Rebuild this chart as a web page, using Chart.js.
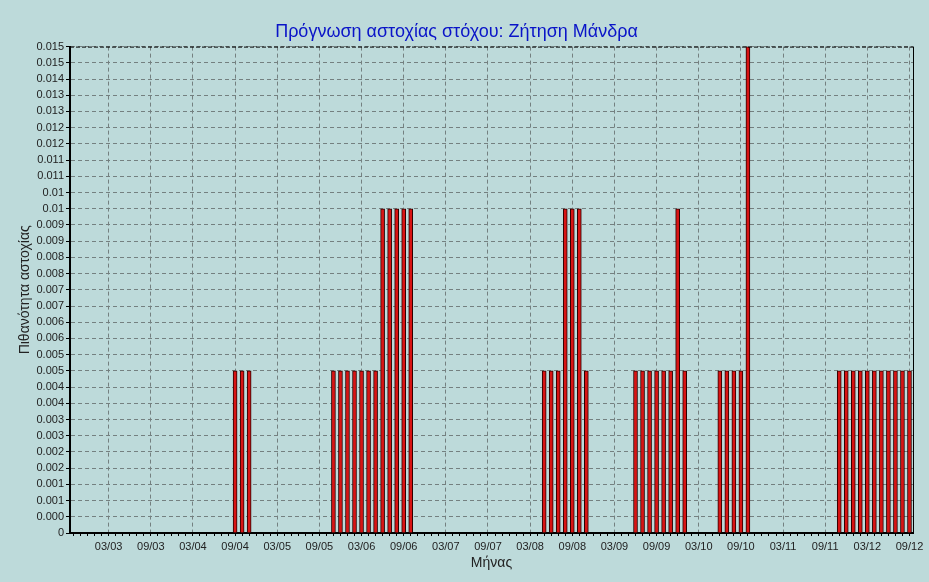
<!DOCTYPE html>
<html>
<head>
<meta charset="utf-8">
<title>Πρόγνωση αστοχίας στόχου</title>
<script src="https://cdn.jsdelivr.net/npm/chart.js@4.4.1/dist/chart.umd.min.js"></script>
<style>
  html, body { margin: 0; padding: 0; background: #bddada; }
  #wrap { width: 929px; height: 582px; }
</style>
</head>
<body>
<div id="wrap"><canvas id="failChart" width="929" height="582"></canvas></div>
<script>
// Months 10/02 .. 09/12 (MM/YY)
const months = [];
for (let y = 2002; y <= 2012; y++) {
  for (let m = 1; m <= 12; m++) {
    if ((y === 2002 && m < 10) || (y === 2012 && m > 9)) continue;
    months.push(String(m).padStart(2, '0') + '/' + String(y % 100).padStart(2, '0'));
  }
}

// Failure probability per month
const failProb = [
  0, 0, 0,                                                        // 2002 Oct-Dec
  0, 0, 0, 0, 0, 0, 0, 0, 0, 0, 0, 0,                             // 2003
  0, 0, 0, 0, 0, 0, 0, 0, 0.005, 0.005, 0.005, 0,                 // 2004
  0, 0, 0, 0, 0, 0, 0, 0, 0, 0, 0.005, 0.005,                     // 2005
  0.005, 0.005, 0.005, 0.005, 0.005, 0.01, 0.01, 0.01, 0.01, 0.01, 0, 0, // 2006
  0, 0, 0, 0, 0, 0, 0, 0, 0, 0, 0, 0,                             // 2007
  0, 0, 0, 0, 0.005, 0.005, 0.005, 0.01, 0.01, 0.01, 0.005, 0,    // 2008
  0, 0, 0, 0, 0, 0.005, 0.005, 0.005, 0.005, 0.005, 0.005, 0.01,  // 2009
  0.005, 0, 0, 0, 0, 0.005, 0.005, 0.005, 0.005, 0.015, 0, 0,     // 2010
  0, 0, 0, 0, 0, 0, 0, 0, 0, 0, 0.005, 0.005,                     // 2011
  0.005, 0.005, 0.005, 0.005, 0.005, 0.005, 0.005, 0.005, 0.005   // 2012 Jan-Sep
];

// y tick labels as printed, bottom to top (step 0.0005)
const yTickLabels = [
  '0', '0.000', '0.001', '0.001', '0.002', '0.002', '0.003', '0.003',
  '0.004', '0.004', '0.005', '0.005', '0.006', '0.006', '0.007', '0.007',
  '0.008', '0.008', '0.009', '0.009', '0.01', '0.01', '0.011', '0.011',
  '0.012', '0.012', '0.013', '0.013', '0.014', '0.015', '0.015'
];
const yStep = 0.0005;

const isLabelled = (i) => {
  const mm = months[i].slice(0, 2);
  return mm === '03' || mm === '09';
};

// background + top/right frame
const frame = {
  id: 'frame',
  beforeDraw(chart) {
    const c = chart.ctx;
    c.save();
    c.fillStyle = '#bddada';
    c.fillRect(0, 0, chart.width, chart.height);
    c.restore();
  },
  afterDraw(chart) {
    const a = chart.chartArea;
    const c = chart.ctx;
    c.save();
    c.strokeStyle = '#000';
    c.lineWidth = 1;
    c.setLineDash([4, 2]);
    c.beginPath();
    c.moveTo(a.left, a.top + 0.5);
    c.lineTo(a.right, a.top + 0.5);
    c.stroke();
    c.setLineDash([]);
    c.beginPath();
    c.moveTo(a.right + 0.5, a.top);
    c.lineTo(a.right + 0.5, a.bottom);
    c.stroke();
    c.restore();
  }
};

const ctx = document.getElementById('failChart').getContext('2d');
const failChart = new Chart(ctx, {
  type: 'bar',
  data: {
    labels: months,
    datasets: [{
      data: failProb,
      backgroundColor: '#d81414',
      borderColor: '#2a0000',
      borderWidth: 1,
      barThickness: 4
    }]
  },
  options: {
    responsive: false,
    animation: false,
    layout: { padding: { right: 16 } },
    plugins: {
      legend: { display: false },
      tooltip: { enabled: false },
      title: {
        display: true,
        text: 'Πρόγνωση αστοχίας στόχου: Ζήτηση Μάνδρα',
        color: '#0a14c8',
        font: { family: 'Liberation Sans', size: 18, weight: 'normal' },
        padding: { top: 21, bottom: 4 }
      }
    },
    scales: {
      x: {
        offset: true,
        grid: {
          offset: false,
          color: (c) => (c.index !== undefined && isLabelled(c.index)) ? '#748080' : 'rgba(0,0,0,0)',
          tickColor: '#000',
          tickLength: 3
        },
        // in v4 border.dash dashes the grid lines
        border: { color: '#000', width: 2, dash: [4, 3] },
        ticks: {
          autoSkip: false,
          maxRotation: 0,
          minRotation: 0,
          padding: 4,
          color: '#222',
          font: { family: 'Liberation Sans', size: 11 },
          callback: (v, i) => isLabelled(i) ? months[i] : ''
        },
        title: {
          display: true,
          text: 'Μήνας',
          color: '#222',
          font: { family: 'Liberation Sans', size: 14 },
          padding: { top: 2, bottom: 10 }
        },
        afterFit: (s) => { s.height = 49; }
      },
      y: {
        min: 0,
        max: 0.015,
        afterBuildTicks: (s) => {
          s.ticks = yTickLabels.map((t, i) => ({ value: i * yStep }));
        },
        grid: {
          color: '#748080',
          tickColor: '#000',
          tickLength: 4
        },
        border: { color: '#000', width: 2, dash: [4, 3] },
        ticks: {
          padding: 2,
          color: '#222',
          font: { family: 'Liberation Sans', size: 11 },
          callback: (v, i) => yTickLabels[i]
        },
        title: {
          display: true,
          text: 'Πιθανότητα αστοχίας',
          color: '#222',
          font: { family: 'Liberation Sans', size: 14 },
          padding: { top: 17, bottom: 0 }
        },
        afterFit: (s) => { s.width = 70; }
      }
    }
  },
  plugins: [frame]
});
</script>
</body>
</html>
